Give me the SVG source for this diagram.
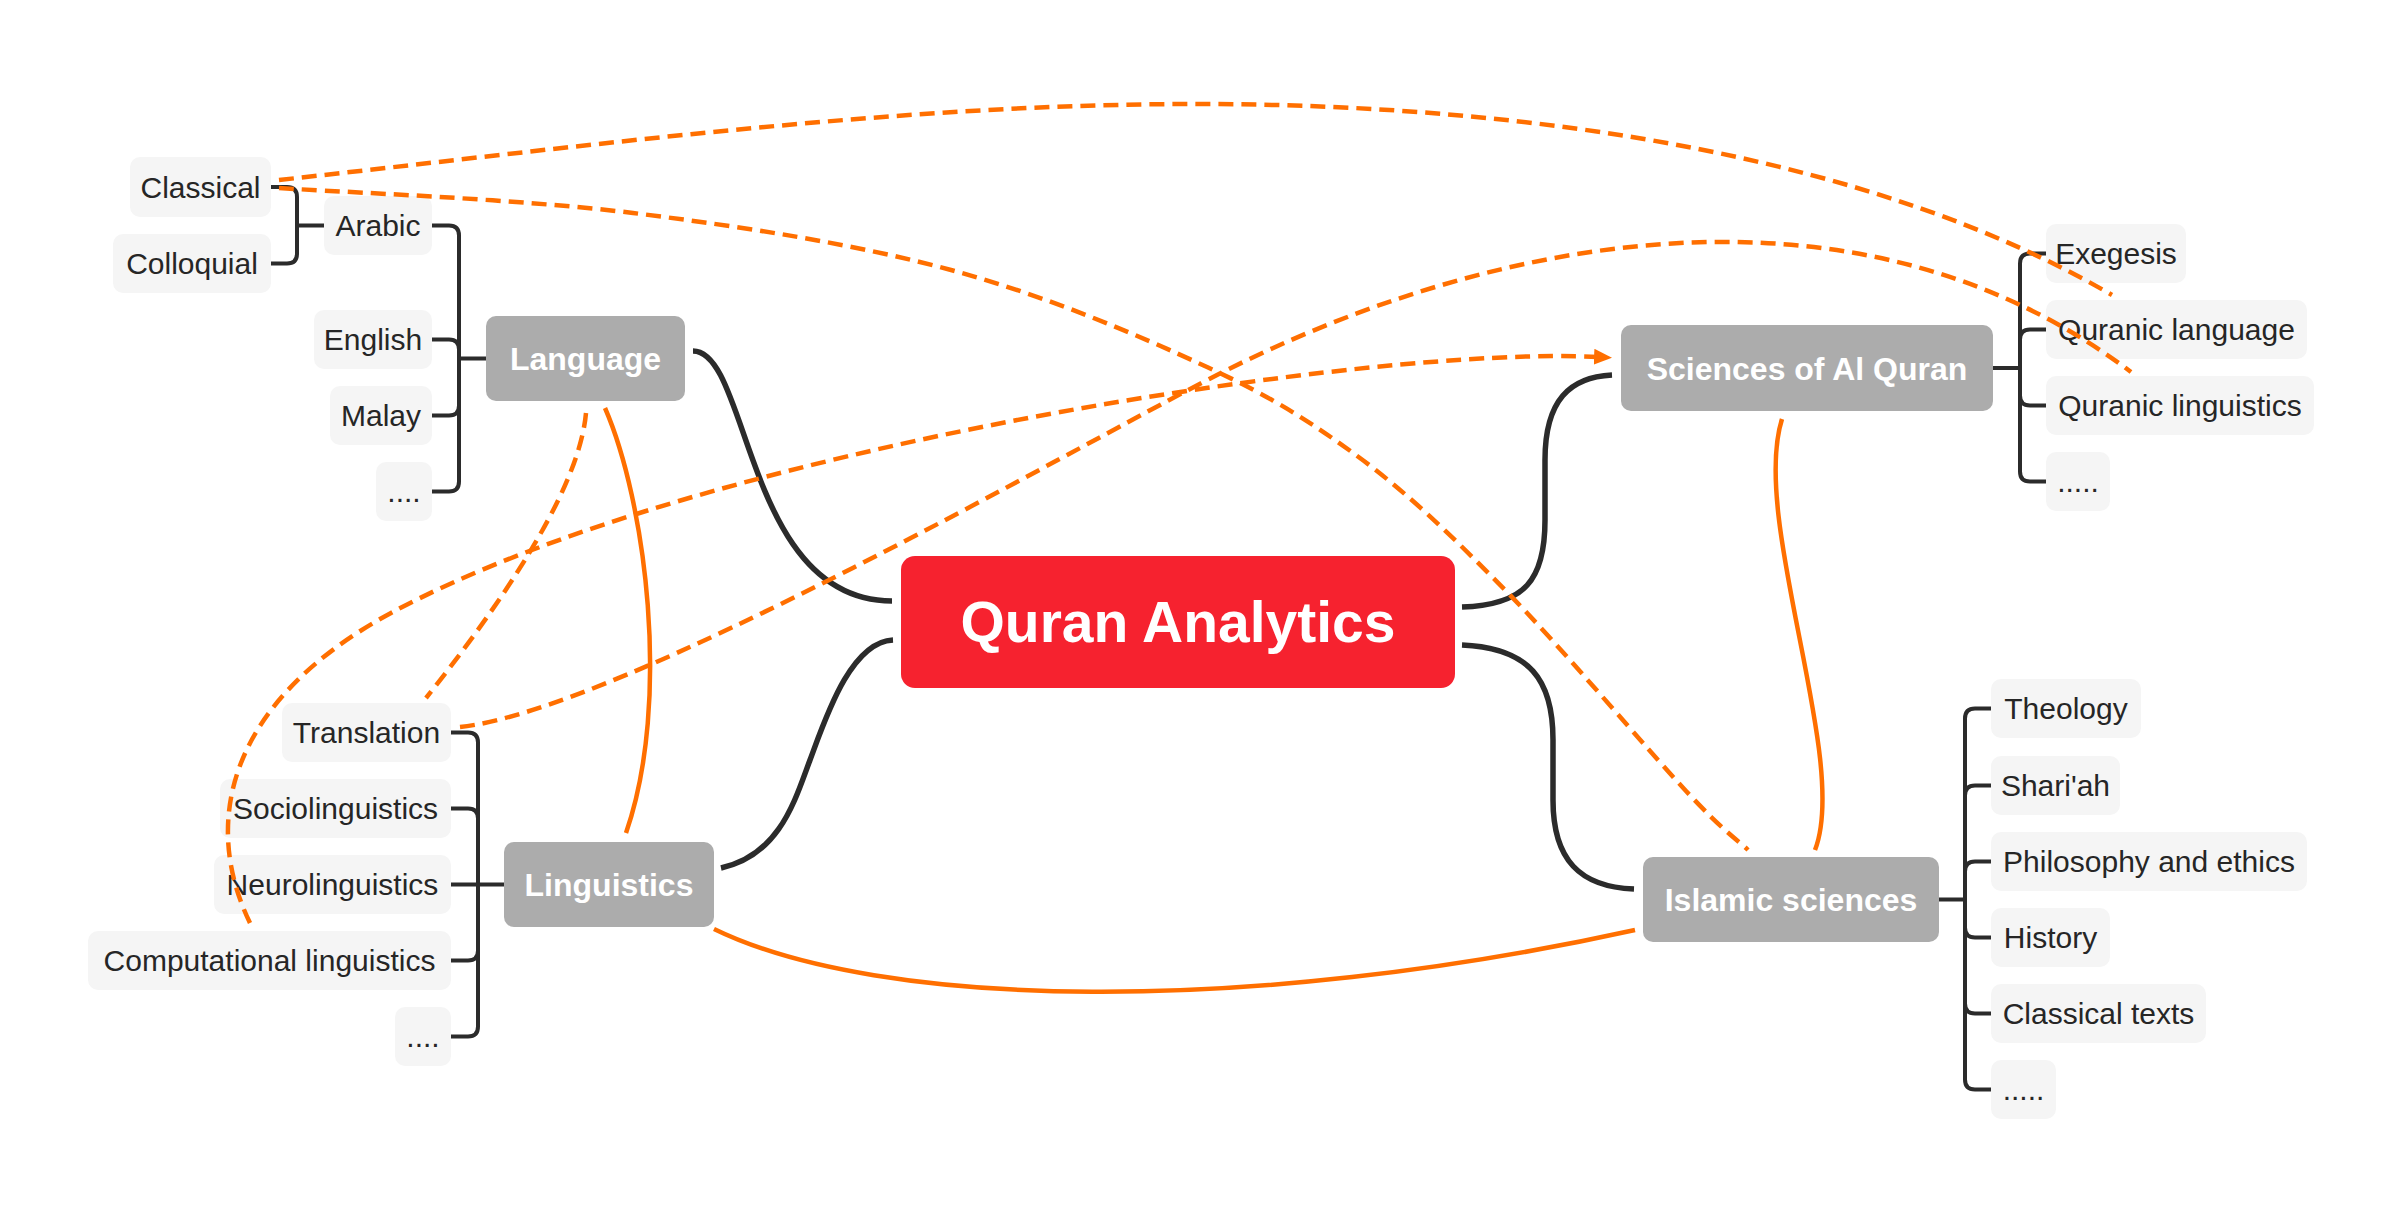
<svg xmlns="http://www.w3.org/2000/svg" width="2403" height="1207" viewBox="0 0 2403 1207">
<style>
.sub rect{fill:#f5f5f5}
.sub text{font-family:"Liberation Sans",Arial,sans-serif;font-size:30px;fill:#262626;text-anchor:middle}
.main rect{fill:#acacac}
.main text{font-family:"Liberation Sans",Arial,sans-serif;font-size:32px;font-weight:bold;fill:#ffffff;text-anchor:middle}
.central rect{fill:#f6222f}
.central text{font-family:"Liberation Sans",Arial,sans-serif;font-size:57px;font-weight:bold;fill:#ffffff;text-anchor:middle}
.conn{fill:none;stroke:#2b2b2b;stroke-width:5.5}
.br{fill:none;stroke:#2b2b2b;stroke-width:4}
.rel{fill:none;stroke:#ff6f00;stroke-width:4.5;stroke-dasharray:15 8}
.rels{fill:none;stroke:#ff6f00;stroke-width:4.5}
</style>
<defs>
<marker id="arrow" viewBox="0 0 18 16" refX="4" refY="8" markerWidth="18" markerHeight="16" markerUnits="userSpaceOnUse" orient="auto">
<path d="M0,0 L18,8 L0,16 z" fill="#ff6f00"/>
</marker>
</defs>
<rect width="2403" height="1207" fill="#ffffff"/>
<g id="connectors">
<path class="conn" d="M693,351 C750,351 745,601 892,601"/>
<path class="conn" d="M721,868 C780,855 795,800 810,760 C825,720 850,642 893,640"/>
<path class="conn" d="M1462,607 C1525,605 1545,580 1545,520 V460 C1545,400 1570,377 1612,375"/>
<path class="conn" d="M1462,645 C1530,648 1553,680 1553,740 V800 C1553,860 1580,887 1634,889"/>
<path class="br" d="M271,187 H287 Q297,187 297,197 V253.5 Q297,263.5 287,263.5 H271 M297,225.5 H324"/>
<path class="br" d="M432,225.5 H449 Q459,225.5 459,235.5 V481.5 Q459,491.5 449,491.5 H432 M432,339.5 H449 Q459,339.5 459,349.5 M432,415.5 H449 Q459,415.5 459,405.5 M459,358.5 H486"/>
<path class="br" d="M451,732.5 H468 Q478,732.5 478,742.5 V1026.5 Q478,1036.5 468,1036.5 H451 M451,808.5 H468 Q478,808.5 478,818.5 M451,884.5 H504 M451,960.5 H468 Q478,960.5 478,950.5"/>
<path class="br" d="M2046,253.5 H2030 Q2020,253.5 2020,263.5 V471.5 Q2020,481.5 2030,481.5 H2046 M2046,329.5 H2030 Q2020,329.5 2020,339.5 M2046,405.5 H2030 Q2020,405.5 2020,395.5 M1993,368 H2020"/>
<path class="br" d="M1991,708.5 H1975 Q1965,708.5 1965,718.5 V1079.5 Q1965,1089.5 1975,1089.5 H1991 M1991,785.5 H1975 Q1965,785.5 1965,795.5 M1991,861.5 H1975 Q1965,861.5 1965,871.5 M1991,937.5 H1975 Q1965,937.5 1965,927.5 M1991,1013.5 H1975 Q1965,1013.5 1965,1003.5 M1939,899.5 H1965"/>
</g>
<g id="nodes">
<g id="central" class="central"><rect x="901" y="556" width="554" height="132" rx="14"/><text x="1178" y="642">Quran Analytics</text></g>
<g id="language" class="main"><rect x="486" y="316" width="199" height="85" rx="10"/><text x="585.5" y="370">Language</text></g>
<g id="linguistics" class="main"><rect x="504" y="842" width="210" height="85" rx="10"/><text x="609" y="896">Linguistics</text></g>
<g id="sciences" class="main"><rect x="1621" y="325" width="372" height="86" rx="10"/><text x="1807" y="379.5">Sciences of Al Quran</text></g>
<g id="islamic" class="main"><rect x="1643" y="857" width="296" height="85" rx="10"/><text x="1791" y="911">Islamic sciences</text></g>
<g id="classical" class="sub"><rect x="130" y="157" width="141" height="60" rx="10"/><text x="200.5" y="198">Classical</text></g>
<g id="colloquial" class="sub"><rect x="113" y="234" width="158" height="59" rx="10"/><text x="192" y="274">Colloquial</text></g>
<g id="arabic" class="sub"><rect x="324" y="196" width="108" height="59" rx="10"/><text x="378" y="236">Arabic</text></g>
<g id="english" class="sub"><rect x="314" y="310" width="118" height="59" rx="10"/><text x="373" y="350">English</text></g>
<g id="malay" class="sub"><rect x="330" y="386" width="102" height="59" rx="10"/><text x="381" y="426">Malay</text></g>
<g id="lang-more" class="sub"><rect x="376" y="462" width="56" height="59" rx="10"/><text x="404" y="502">....</text></g>
<g id="translation" class="sub"><rect x="282" y="703" width="169" height="59" rx="10"/><text x="366.5" y="743">Translation</text></g>
<g id="sociolinguistics" class="sub"><rect x="220" y="779" width="231" height="59" rx="10"/><text x="335.5" y="819">Sociolinguistics</text></g>
<g id="neurolinguistics" class="sub"><rect x="214" y="855" width="237" height="59" rx="10"/><text x="332.5" y="895">Neurolinguistics</text></g>
<g id="computational" class="sub"><rect x="88" y="931" width="363" height="59" rx="10"/><text x="269.5" y="971">Computational linguistics</text></g>
<g id="ling-more" class="sub"><rect x="395" y="1007" width="56" height="59" rx="10"/><text x="423" y="1047">....</text></g>
<g id="exegesis" class="sub"><rect x="2046" y="224" width="140" height="59" rx="10"/><text x="2116" y="264">Exegesis</text></g>
<g id="quranic-language" class="sub"><rect x="2046" y="300" width="261" height="59" rx="10"/><text x="2176.5" y="340">Quranic language</text></g>
<g id="quranic-linguistics" class="sub"><rect x="2046" y="376" width="268" height="59" rx="10"/><text x="2180" y="416">Quranic linguistics</text></g>
<g id="sci-more" class="sub"><rect x="2046" y="452" width="64" height="59" rx="10"/><text x="2078" y="492">.....</text></g>
<g id="theology" class="sub"><rect x="1991" y="679" width="150" height="59" rx="10"/><text x="2066" y="719">Theology</text></g>
<g id="shariah" class="sub"><rect x="1991" y="756" width="129" height="59" rx="10"/><text x="2055.5" y="796">Shari'ah</text></g>
<g id="philosophy" class="sub"><rect x="1991" y="832" width="316" height="59" rx="10"/><text x="2149" y="872">Philosophy and ethics</text></g>
<g id="history" class="sub"><rect x="1991" y="908" width="119" height="59" rx="10"/><text x="2050.5" y="948">History</text></g>
<g id="classical-texts" class="sub"><rect x="1991" y="984" width="215" height="59" rx="10"/><text x="2098.5" y="1024">Classical texts</text></g>
<g id="isl-more" class="sub"><rect x="1991" y="1060" width="65" height="59" rx="10"/><text x="2023.5" y="1100">.....</text></g>
</g>
<g id="relationships">
<path class="rel" d="M279,180 C579,147 895,104 1195,104 C1545,104 1880,160 2112,295"/>
<path class="rel" d="M279,188 C338,192 521,199 633,213 C745,227 855,244 951,270 C1047,296 1138,335 1207,367 C1276,399 1314,424 1364,461 C1414,499 1453,537 1507,592 C1561,647 1646,748 1686,791 C1726,834 1738,840 1748,850"/>
<path class="rel" d="M460,727 C620,710 1070,450 1217,375 C1480,241 1850,160 2131,372"/>
<path class="rel" d="M250,923 C200,820 230,700 391,613 C700,446 1380,345 1598,357" marker-end="url(#arrow)"/>
<path class="rel" d="M586,413 C580,480 520,580 426,698"/>
<path class="rels" d="M605,408 C645,500 672,700 626,833"/>
<path class="rels" d="M1782,419 C1750,520 1850,760 1815,850"/>
<path class="rels" d="M714,929 C880,1010 1250,1015 1635,930"/>
</g>
</svg>
